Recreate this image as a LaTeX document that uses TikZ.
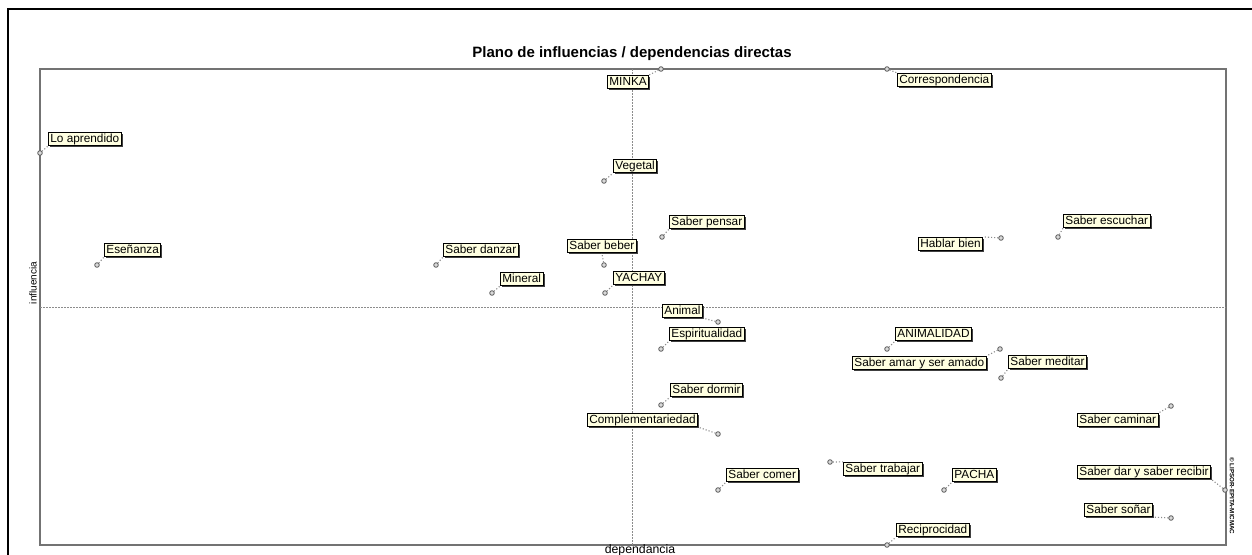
\documentclass[tikz,border=0pt]{standalone}
\usepackage{fontspec}
\setmainfont{Liberation Sans}
\usetikzlibrary{shadows}
\definecolor{tip}{RGB}{255,255,225}
\tikzset{
  lbl/.style={draw=black, fill=tip, line width=0.8pt, inner xsep=2pt, inner ysep=1pt,
    text height=8.8pt, text depth=2.6pt, font=\fontsize{11.8}{13}\selectfont, anchor=west,
    drop shadow={shadow xshift=1.6pt, shadow yshift=-1.6pt, fill=black!75, opacity=1}},
  pt/.style={circle, draw=black!65, fill=black!15, line width=0.8pt, minimum size=4.6pt, inner sep=0pt},
  conn/.style={draw=black!45, line width=1.1pt, dotted},
  axis/.style={draw=black!45, line width=0.6pt, dash pattern=on 1.5pt off 1.5pt}
}
\begin{document}
\begin{tikzpicture}[x=1pt,y=-1pt]
\useasboundingbox (0,0) rectangle (1252,554);
\fill[white] (0,0) rectangle (1252,554);
% outer frame (partial)
\draw[black, line width=2.6pt] (8,560) -- (8,9) -- (1260,9);
% plot frame
\draw[black!55, line width=1.4pt] (40,69) rectangle (1226,545);
\draw[axis] (632,69) -- (632,545);
\draw[axis] (40,307) -- (1226,307);
% titles
\node[font=\bfseries\fontsize{15}{17}\selectfont] (title) at (632,54) {Plano de influencias / dependencias directas};
\node[rotate=90, font=\fontsize{10}{11}\selectfont] (ylab) at (33,283) {influencia};
\node[font=\fontsize{12.3}{13}\selectfont] (xlab) at (640,550) {dependancia};
\node[rotate=-90, font=\bfseries\fontsize{6.2}{7}\selectfont] (copy) at (1232,496) {© LIPSOR-EPITA-MICMAC};
% labels
\node[lbl] (l1) at (48,139) {Lo aprendido};
\node[lbl] (l2) at (607,82) {MINKA};
\node[lbl] (l3) at (897,80) {Correspondencia};
\node[lbl] (l4) at (613,166) {Vegetal};
\node[lbl] (l5) at (669,222) {Saber pensar};
\node[lbl] (l6) at (1063,221) {Saber escuchar};
\node[lbl] (l7) at (918,244) {Hablar bien};
\node[lbl] (l8) at (104,250) {Eseñanza};
\node[lbl] (l9) at (443,250) {Saber danzar};
\node[lbl] (l10) at (567,246) {Saber beber};
\node[lbl] (l11) at (500,279) {Mineral};
\node[lbl] (l12) at (613,278) {YACHAY};
\node[lbl] (l13) at (662,311) {Animal};
\node[lbl] (l14) at (669,334) {Espiritualidad};
\node[lbl] (l15) at (895,334) {ANIMALIDAD};
\node[lbl] (l16) at (852,363) {Saber amar y ser amado};
\node[lbl] (l17) at (1008,362) {Saber meditar};
\node[lbl] (l18) at (670,390) {Saber dormir};
\node[lbl] (l19) at (587,420) {Complementariedad};
\node[lbl] (l20) at (1077,420) {Saber caminar};
\node[lbl] (l21) at (843,469) {Saber trabajar};
\node[lbl] (l22) at (726,475) {Saber comer};
\node[lbl] (l23) at (952,475) {PACHA};
\node[lbl] (l24) at (1077,472) {Saber dar y saber recibir};
\node[lbl] (l25) at (1084,510) {Saber soñar};
\node[lbl] (l26) at (896,530) {Reciprocidad};
% points
\node[pt] (p1) at (40,153) {};
\node[pt] (p2) at (661,69) {};
\node[pt] (p3) at (887,69) {};
\node[pt] (p4) at (604,181) {};
\node[pt] (p5) at (662,237) {};
\node[pt] (p6) at (1058,237) {};
\node[pt] (p7) at (1001,238) {};
\node[pt] (p8) at (97,265) {};
\node[pt] (p9) at (436,265) {};
\node[pt] (p10) at (604,265) {};
\node[pt] (p11) at (492,293) {};
\node[pt] (p12) at (605,293) {};
\node[pt] (p13) at (718,322) {};
\node[pt] (p14) at (661,349) {};
\node[pt] (p15) at (887,349) {};
\node[pt] (p16) at (1000,349) {};
\node[pt] (p17) at (1001,378) {};
\node[pt] (p18) at (661,405) {};
\node[pt] (p19) at (718,434) {};
\node[pt] (p20) at (1171,406) {};
\node[pt] (p21) at (830,462) {};
\node[pt] (p22) at (718,490) {};
\node[pt] (p23) at (944,490) {};
\node[pt] (p24) at (1225,490) {};
\node[pt] (p25) at (1171,518) {};
\node[pt] (p26) at (887,545) {};
% connectors
\draw[conn] (p1) -- (l1.south west);
\draw[conn] (p2) -- (l2.north east);
\draw[conn] (p3) -- (l3.north west);
\draw[conn] (p4) -- (l4.south west);
\draw[conn] (p5) -- (l5.south west);
\draw[conn] (p6) -- (l6.south west);
\draw[conn] (p7) -- (l7.north east);
\draw[conn] (p8) -- (l8.south west);
\draw[conn] (p9) -- (l9.south west);
\draw[conn] (p10) -- (l10.south);
\draw[conn] (p11) -- (l11.south west);
\draw[conn] (p12) -- (l12.south west);
\draw[conn] (p13) -- (l13.south east);
\draw[conn] (p14) -- (l14.south west);
\draw[conn] (p15) -- (l15.south west);
\draw[conn] (p16) -- (l16.north east);
\draw[conn] (p17) -- (l17.south west);
\draw[conn] (p18) -- (l18.south west);
\draw[conn] (p19) -- (l19.south east);
\draw[conn] (p20) -- (l20.north east);
\draw[conn] (p21) -- (l21.north west);
\draw[conn] (p22) -- (l22.south west);
\draw[conn] (p23) -- (l23.south west);
\draw[conn] (p24) -- (l24.south east);
\draw[conn] (p25) -- (l25.south east);
\draw[conn] (p26) -- (l26.south west);
\end{tikzpicture}
\end{document}
